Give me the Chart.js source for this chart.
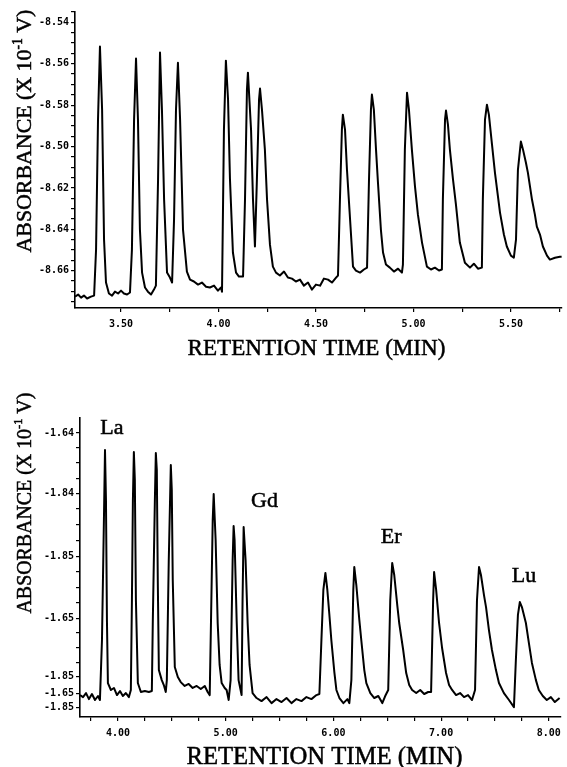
<!DOCTYPE html>
<html>
<head>
<meta charset="utf-8">
<script src="https://cdn.jsdelivr.net/npm/chart.js@4"></script>
<style>
  html, body { margin: 0; padding: 0; background: #fff; overflow: hidden; width: 567px; height: 767px; }
  .box { position: absolute; left: 0; width: 567px; }
</style>
</head>
<body>
<div class="box" style="top:0;height:375px"><canvas id="topChart" width="567" height="375"></canvas></div>
<div class="box" style="top:380px;height:395px"><canvas id="bottomChart" width="567" height="395"></canvas></div>
<script>
// upper chromatogram: retention time (min) and absorbance
const timeTop = [
  3.264,3.280,3.295,3.310,3.326,3.346,3.362,3.372,3.382,3.392,3.403,3.413,3.423,
  3.438,3.454,3.469,3.485,3.500,3.515,3.531,3.546,3.556,3.567,3.577,3.587,3.597,3.608,
  3.623,3.638,3.654,3.669,3.679,3.690,3.700,3.710,3.721,3.736,
  3.751,3.762,3.772,3.782,3.792,3.803,3.818,3.838,
  3.854,3.874,3.895,3.915,3.936,3.956,3.977,3.997,4.013,4.018,
  4.028,4.038,4.049,4.059,4.074,4.090,4.105,4.126,4.136,4.146,4.151,4.167,4.177,4.187,4.197,4.208,4.213,4.223,4.238,4.249,4.264,4.279,
  4.295,4.315,4.336,4.356,4.377,4.397,4.418,4.438,4.459,4.479,4.500,4.521,4.541,4.562,4.582,4.603,4.613,
  4.623,4.633,4.638,4.649,4.659,4.674,4.690,4.705,4.726,4.746,4.762,
  4.772,4.782,4.787,4.797,4.808,4.818,4.833,4.844,4.859,4.879,4.900,4.921,4.941,
  4.946,4.956,4.967,4.977,4.992,5.008,5.023,5.044,5.069,5.090,5.110,5.131,5.146,
  5.151,5.162,5.167,5.177,5.187,5.203,5.218,5.238,5.264,5.290,5.310,5.331,5.351,
  5.356,5.367,5.377,5.387,5.403,5.418,5.444,5.464,5.479,5.500,5.515,
  5.526,5.536,5.551,5.562,5.577,5.587,5.608,5.623,5.633,5.649,5.664,5.685,5.700,5.726,5.751,5.760
];
const absTop = [
  -8.6725,-8.6715,-8.6730,-8.6720,-8.6734,-8.6725,-8.6720,-8.6498,-8.5870,-8.5517,-8.5822,-8.6450,-8.6657,
  -8.6710,-8.6720,-8.6701,-8.6710,-8.6696,-8.6710,-8.6715,-8.6705,-8.6498,-8.5870,-8.5575,-8.5870,-8.6401,-8.6609,
  -8.6681,-8.6701,-8.6715,-8.6691,-8.6672,-8.6160,-8.5546,-8.5822,-8.6256,-8.6609,
  -8.6633,-8.6657,-8.6353,-8.5822,-8.5595,-8.5870,-8.6401,-8.6604,
  -8.6643,-8.6652,-8.6667,-8.6657,-8.6677,-8.6681,-8.6672,-8.6696,-8.6681,-8.6701,
  -8.5918,-8.5585,-8.5773,-8.6160,-8.6512,-8.6609,-8.6628,-8.6628,-8.6256,-8.5725,-8.5643,-8.5918,-8.6256,-8.6483,-8.6160,-8.5773,-8.5720,-8.5822,-8.6015,-8.6256,-8.6474,-8.6580,
  -8.6609,-8.6623,-8.6604,-8.6633,-8.6638,-8.6652,-8.6643,-8.6672,-8.6657,-8.6691,-8.6667,-8.6672,-8.6638,-8.6643,-8.6657,-8.6633,-8.6623,
  -8.6256,-8.5918,-8.5846,-8.5918,-8.6111,-8.6338,-8.6580,-8.6599,-8.6609,-8.6594,-8.6585,
  -8.6160,-8.5822,-8.5749,-8.5822,-8.6015,-8.6174,-8.6401,-8.6512,-8.6570,-8.6585,-8.6604,-8.6590,-8.6609,
  -8.6570,-8.6015,-8.5740,-8.5822,-8.6015,-8.6194,-8.6329,-8.6464,-8.6580,-8.6594,-8.6585,-8.6599,-8.6594,
  -8.6256,-8.5870,-8.5826,-8.5894,-8.6015,-8.6160,-8.6281,-8.6464,-8.6561,-8.6585,-8.6566,-8.6590,-8.6585,
  -8.6256,-8.5870,-8.5798,-8.5846,-8.5991,-8.6126,-8.6319,-8.6425,-8.6483,-8.6527,-8.6537,
  -8.6450,-8.6111,-8.5976,-8.6015,-8.6078,-8.6126,-8.6256,-8.6329,-8.6387,-8.6425,-8.6483,-8.6527,-8.6546,-8.6537,-8.6532,-8.6532
];

// lower chromatogram
const timeBottom = [
  3.648,3.676,3.704,3.731,3.759,3.787,3.815,3.833,3.852,3.870,3.880,3.889,3.898,3.907,
  3.935,3.963,3.991,4.019,4.046,4.074,4.102,4.120,4.130,4.139,4.148,4.157,4.167,4.185,
  4.213,4.250,4.287,4.315,4.324,4.343,4.352,4.361,4.370,4.380,4.407,4.426,4.444,
  4.454,4.472,4.491,4.500,4.509,4.528,4.556,4.583,4.620,4.657,4.694,4.731,4.769,4.806,4.833,4.852,
  4.861,4.880,4.889,4.907,4.926,4.944,4.963,4.991,5.009,5.028,
  5.046,5.065,5.074,5.083,5.102,5.120,5.148,5.157,5.167,5.185,5.204,5.222,5.250,
  5.287,5.333,5.380,5.426,5.472,5.519,5.565,5.611,5.657,5.704,5.750,5.796,5.843,5.870,
  5.889,5.907,5.926,5.944,5.963,5.981,6.009,6.028,6.056,6.093,6.130,6.148,
  6.167,6.185,6.194,6.213,6.241,6.259,6.287,6.306,6.343,6.380,6.417,6.454,6.481,6.509,
  6.528,6.546,6.565,6.593,6.611,6.648,6.676,6.704,6.731,6.769,6.806,6.843,6.880,6.907,
  6.926,6.935,6.954,6.981,7.009,7.046,7.074,7.102,7.139,7.176,7.213,7.250,7.287,7.315,
  7.333,7.352,7.370,7.398,7.417,7.444,7.472,7.509,7.537,7.583,7.630,7.676,
  7.694,7.713,7.731,7.750,7.787,7.815,7.843,7.880,7.907,7.944,7.981,8.019,8.056,8.100
];
const absBottom = [
  -1.65698,-1.65711,-1.65685,-1.65724,-1.65691,-1.65730,-1.65704,-1.65730,-1.65341,-1.64564,-1.64110,-1.64434,-1.65212,-1.65620,
  -1.65665,-1.65652,-1.65698,-1.65672,-1.65704,-1.65685,-1.65711,-1.65665,-1.65082,-1.64434,-1.64123,-1.64305,-1.65082,-1.65620,
  -1.65678,-1.65672,-1.65678,-1.65672,-1.65212,-1.64434,-1.64130,-1.64240,-1.64953,-1.65536,-1.65601,-1.65633,-1.65678,
  -1.65601,-1.64823,-1.64207,-1.64369,-1.64953,-1.65516,-1.65581,-1.65614,-1.65639,-1.65626,-1.65652,-1.65639,-1.65659,-1.65639,-1.65678,-1.65698,
  -1.65341,-1.64564,-1.64395,-1.64693,-1.65231,-1.65503,-1.65620,-1.65652,-1.65665,-1.65730,
  -1.65601,-1.64823,-1.64603,-1.64693,-1.65212,-1.65601,-1.65698,-1.65082,-1.64609,-1.64823,-1.65231,-1.65503,-1.65685,
  -1.65717,-1.65737,-1.65711,-1.65750,-1.65724,-1.65743,-1.65717,-1.65750,-1.65724,-1.65737,-1.65711,-1.65724,-1.65698,-1.65691,
  -1.65341,-1.65017,-1.64907,-1.65017,-1.65179,-1.65341,-1.65549,-1.65665,-1.65717,-1.65750,-1.65724,-1.65750,
  -1.65601,-1.65017,-1.64868,-1.64985,-1.65212,-1.65341,-1.65536,-1.65620,-1.65685,-1.65717,-1.65704,-1.65750,-1.65704,-1.65665,
  -1.65082,-1.64842,-1.64920,-1.65115,-1.65231,-1.65406,-1.65555,-1.65633,-1.65665,-1.65685,-1.65665,-1.65691,-1.65678,-1.65678,
  -1.65082,-1.64901,-1.65017,-1.65231,-1.65393,-1.65555,-1.65633,-1.65665,-1.65698,-1.65685,-1.65711,-1.65698,-1.65730,-1.65665,
  -1.65082,-1.64868,-1.64920,-1.65050,-1.65128,-1.65277,-1.65406,-1.65536,-1.65620,-1.65685,-1.65730,-1.65776,
  -1.65471,-1.65179,-1.65095,-1.65128,-1.65231,-1.65361,-1.65490,-1.65601,-1.65665,-1.65704,-1.65730,-1.65711,-1.65743,-1.65717
];

// y tick marks as printed (the labels are reproduced exactly as they appear)
const yTicksTop = [-8.54, -8.56, -8.58, -8.60, -8.62, -8.64, -8.66];
const yLabelsTop = ["-8.54", "-8.56", "-8.58", "-8.50", "-8.62", "-8.64", "-8.66"];
const yTicksBottom = [-1.6400, -1.6439, -1.6480, -1.6520, -1.6558, -1.6569, -1.6578];
const yLabelsBottom = ["-1.64", "-1.84", "-1.85", "-1.65", "-1.85", "-1.65", "-1.85"];

// element labels on the lower trace
const elements = ["La", "Gd", "Er", "Lu"];
const elementTime = [3.944, 5.361, 6.537, 7.769];
const elementAbs = [-1.63955, -1.64434, -1.64661, -1.64914];

const SERIF = "'Liberation Serif', 'Times New Roman', serif";
const tickFont = { family: "'DejaVu Sans Mono', monospace", size: 10, weight: "bold" };

function labelFor(ticks, labels, v) {
  const i = ticks.findIndex((t) => Math.abs(t - v) < 1e-6);
  return i < 0 ? "" : labels[i];
}

// serif text, thickened a little like the printed original
function heavyText(ctx, text, x, y) {
  ctx.fillText(text, x, y);
  ctx.strokeText(text, x, y);
}

function drawYTitle(ctx, cx, cy, length) {
  const a = "ABSORBANCE (X 10", sup = "-1", b = " V)";
  ctx.font = "20px " + SERIF;
  const w20 = ctx.measureText(a).width + ctx.measureText(b).width + 0.62 * ctx.measureText(sup).width;
  const s = 20 * length / w20;
  ctx.save();
  ctx.translate(cx, cy);
  ctx.rotate(-Math.PI / 2);
  ctx.fillStyle = "#000";
  ctx.strokeStyle = "#000";
  ctx.lineWidth = 0.5;
  ctx.textBaseline = "alphabetic";
  ctx.textAlign = "left";
  let x = -length / 2;
  const base = 0.33 * s;
  ctx.font = s + "px " + SERIF;
  heavyText(ctx, a, x, base);
  x += ctx.measureText(a).width;
  ctx.font = (0.62 * s) + "px " + SERIF;
  heavyText(ctx, sup, x, base - 0.42 * s);
  x += ctx.measureText(sup).width;
  ctx.font = s + "px " + SERIF;
  heavyText(ctx, b, x, base);
  ctx.restore();
}

function drawXTitle(ctx, cx, cy, length) {
  const t = "RETENTION TIME (MIN)";
  ctx.font = "20px " + SERIF;
  const s = 20 * length / ctx.measureText(t).width;
  ctx.save();
  ctx.font = s + "px " + SERIF;
  ctx.fillStyle = "#000";
  ctx.strokeStyle = "#000";
  ctx.lineWidth = 0.5;
  ctx.textAlign = "center";
  ctx.textBaseline = "alphabetic";
  heavyText(ctx, t, cx, cy + 0.33 * s);
  ctx.restore();
}

function makeChart(id, times, values, o) {
  const titles = {
    id: "titles",
    afterDraw(chart) {
      const ctx = chart.ctx;
      const area = chart.chartArea;
      drawYTitle(ctx, 24, o.yTitleY, o.yTitleLen);
      drawXTitle(ctx, (area.left + area.right) / 2 + o.xTitleShift, o.xTitleY, o.xTitleLen);
      if (o.notes) {
        ctx.save();
        ctx.font = "22px " + SERIF;
        ctx.fillStyle = "#000";
        ctx.strokeStyle = "#000";
        ctx.lineWidth = 0.5;
        ctx.textAlign = "center";
        ctx.textBaseline = "alphabetic";
        o.notes.forEach((n, i) => {
          const px = chart.scales.x.getPixelForValue(elementTime[i]);
          const py = chart.scales.y.getPixelForValue(elementAbs[i]);
          heavyText(ctx, n, px, py + 7.5);
        });
        ctx.restore();
      }
    }
  };

  return new Chart(document.getElementById(id), {
    type: "line",
    data: {
      datasets: [{
        data: times.map((t, i) => ({ x: t, y: values[i] })),
        borderColor: "#000",
        borderWidth: 2,
        borderJoinStyle: "round",
        pointRadius: 0,
        tension: 0,
        fill: false
      }]
    },
    options: {
      responsive: false,
      animation: false,
      devicePixelRatio: 1,
      layout: { padding: { top: o.top, right: 5, left: 0, bottom: 0 } },
      plugins: { legend: { display: false }, tooltip: { enabled: false } },
      scales: {
        x: {
          type: "linear",
          min: o.xMin,
          max: o.xMax,
          afterFit: (s) => { s.height = o.xHeight; },
          afterBuildTicks: (s) => { s.ticks = o.xTicks.map((v) => ({ value: v })); },
          ticks: {
            autoSkip: false, maxRotation: 0, padding: 6, color: "#000", font: tickFont,
            callback: (v) => (o.xMajor(v) ? v.toFixed(2) : "")
          },
          grid: { drawOnChartArea: false, tickLength: 4, color: "#000", lineWidth: 1.2 },
          border: { color: "#000", width: 1.6 }
        },
        y: {
          type: "linear",
          min: o.yMin,
          max: o.yMax,
          afterFit: (s) => { s.width = o.yWidth; },
          afterBuildTicks: (s) => { s.ticks = o.yTickList.map((v) => ({ value: v })); },
          ticks: {
            autoSkip: false, padding: 2, color: "#000", font: tickFont,
            callback: (v) => labelFor(o.yMajors, o.yLabels, v)
          },
          grid: { drawOnChartArea: false, tickLength: 4, color: "#000", lineWidth: 1.2 },
          border: { color: "#000", width: 1.6 }
        }
      }
    },
    plugins: [titles]
  });
}

// tick lists (every quarter minute, labels on the majors)
const xTicksTop = [];
for (let k = 14; k <= 23; k++) xTicksTop.push(k / 4);
const xTicksBottom = [];
for (let k = 15; k <= 32; k++) xTicksBottom.push(k / 4);

const yTickListTop = [];
for (let k = 1707; k <= 1735; k++) yTickListTop.push(-k / 200);

const yTickListBottom = yTicksBottom.slice();
for (let i = 0; i < 4; i++) {
  const a = yTicksBottom[i], b = yTicksBottom[i + 1];
  for (let j = 1; j <= 3; j++) yTickListBottom.push(a + (b - a) * j / 4);
}

makeChart("topChart", timeTop, absTop, {
  top: 12, xHeight: 67, yWidth: 75,
  xMin: 3.264, xMax: 5.762, yMin: -8.678, yMax: -8.535,
  xTicks: xTicksTop, xMajor: (v) => Math.abs(v * 2 - Math.round(v * 2)) < 1e-6,
  yTickList: yTickListTop, yMajors: yTicksTop, yLabels: yLabelsTop,
  yTitleY: 131, yTitleLen: 243, xTitleY: 347, xTitleLen: 258, xTitleShift: -2
});

makeChart("bottomChart", timeBottom, absBottom, {
  top: 38, xHeight: 58, yWidth: 80,
  xMin: 3.648, xMax: 8.111, yMin: -1.6584, yMax: -1.63903,
  xTicks: xTicksBottom, xMajor: (v) => Math.abs(v - Math.round(v)) < 1e-6,
  yTickList: yTickListBottom, yMajors: yTicksBottom, yLabels: yLabelsBottom,
  yTitleY: 123, yTitleLen: 221, xTitleY: 376, xTitleLen: 276, xTitleShift: 4,
  notes: elements
});
</script>
</body>
</html>
